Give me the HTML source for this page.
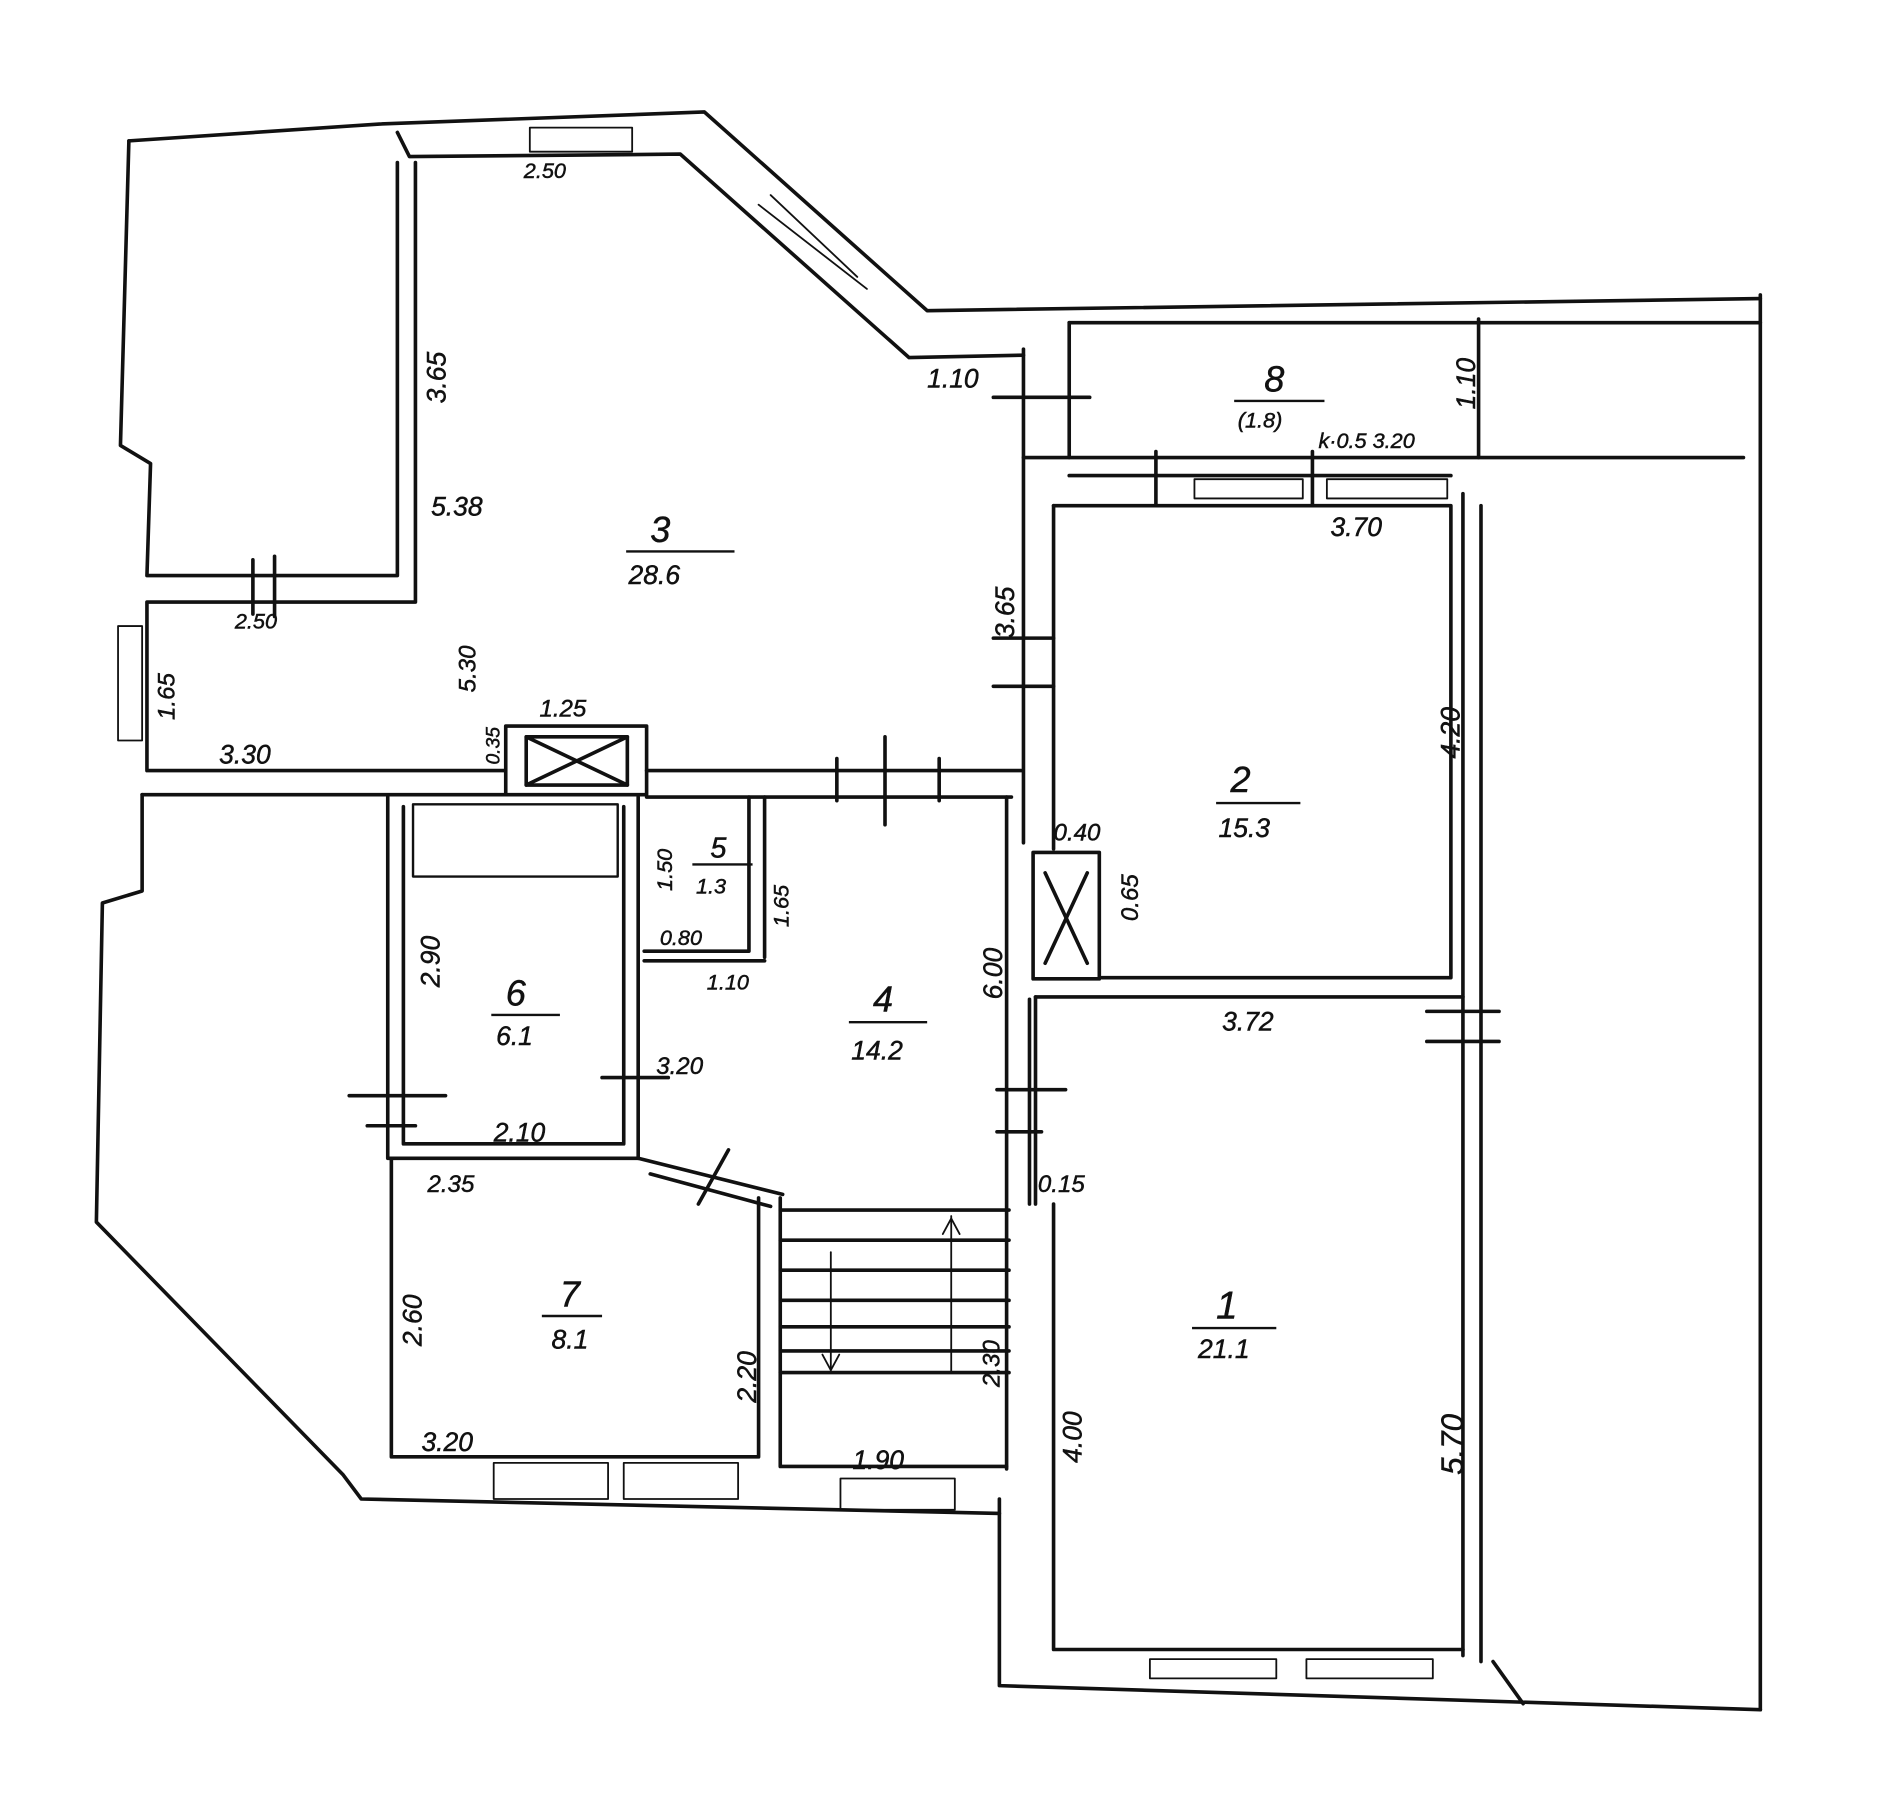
<!DOCTYPE html>
<html><head><meta charset="utf-8"><style>
html,body{margin:0;padding:0;background:#fff;}
svg{display:block}
text{font-family:"Liberation Sans",sans-serif;font-style:italic;fill:#111;stroke:#111;stroke-width:0.4}
</style></head><body>
<svg width="1888" height="1800" viewBox="0 0 1568 1495" xmlns="http://www.w3.org/2000/svg">
<g fill="none" stroke="#111" stroke-width="3" stroke-linecap="round" stroke-linejoin="round">
<polyline points="107,117 315,103 585,93 770,258 1462,248"/>
<polyline points="330,110 340,130 565,128 755,297 850,295"/>
<line x1="888" y1="268" x2="1462" y2="268"/>
<line x1="1462" y1="245" x2="1462" y2="1420"/>
<line x1="1228" y1="265" x2="1228" y2="380"/>
<rect x="440" y="106" width="85" height="20" stroke-width="1.5"/>
<line x1="630" y1="170" x2="720" y2="240" stroke-width="1.5"/>
<line x1="640" y1="162" x2="712" y2="230" stroke-width="1.5"/>
<polyline points="107,117 100,370 125,385 122,478 330,478 330,135"/>
<polyline points="345,135 345,500 122,500 122,640 420,640"/>
<rect x="98" y="520" width="20" height="95" stroke-width="1.5"/>
<line x1="210" y1="465" x2="210" y2="510"/><line x1="228" y1="462" x2="228" y2="512"/>
<line x1="118" y1="660" x2="420" y2="660"/>
<rect x="420" y="603" width="117" height="57"/>
<rect x="437" y="612" width="84" height="40"/>
<line x1="437" y1="612" x2="521" y2="652"/><line x1="521" y1="612" x2="437" y2="652"/>
<line x1="537" y1="640" x2="848" y2="640"/>
<line x1="537" y1="662" x2="840" y2="662"/>
<line x1="695" y1="630" x2="695" y2="665"/><line x1="735" y1="612" x2="735" y2="685"/><line x1="780" y1="630" x2="780" y2="665"/>
<line x1="850" y1="290" x2="850" y2="700"/>
<line x1="888" y1="268" x2="888" y2="380"/>
<line x1="850" y1="380" x2="1448" y2="380"/>
<line x1="888" y1="395" x2="1205" y2="395"/>
<line x1="825" y1="330" x2="905" y2="330"/>
<line x1="960" y1="375" x2="960" y2="420"/><line x1="1090" y1="375" x2="1090" y2="420"/>
<rect x="992" y="398" width="90" height="16" stroke-width="1.5"/>
<rect x="1102" y="398" width="100" height="16" stroke-width="1.5"/>
<line x1="825" y1="530" x2="875" y2="530"/><line x1="825" y1="570" x2="875" y2="570"/>
<polyline points="875,420 1205,420 1205,812 915,812"/>
<line x1="875" y1="420" x2="875" y2="705"/>
<line x1="1215" y1="410" x2="1215" y2="1375"/>
<line x1="1230" y1="420" x2="1230" y2="1380"/>
<rect x="858" y="708" width="55" height="105"/>
<line x1="868" y1="725" x2="903" y2="800"/><line x1="903" y1="725" x2="868" y2="800"/>
<polyline points="860,828 1215,828"/>
<line x1="860" y1="828" x2="860" y2="1000"/>
<polyline points="875,1000 875,1370 1215,1370"/>
<polyline points="836,662 836,1220"/>
<polyline points="855,830 855,1000"/>
<polyline points="830,1245 830,1400 1462,1420"/>
<line x1="1185" y1="840" x2="1245" y2="840"/><line x1="1185" y1="865" x2="1245" y2="865"/>
<line x1="828" y1="905" x2="885" y2="905"/><line x1="828" y1="940" x2="865" y2="940"/>
<rect x="955" y="1378" width="105" height="16" stroke-width="1.5"/>
<rect x="1085" y="1378" width="105" height="16" stroke-width="1.5"/>
<polyline points="322,662 322,962 530,962"/>
<polyline points="335,670 335,950 518,950 518,670"/>
<line x1="530" y1="662" x2="530" y2="962"/>
<rect x="343" y="668" width="170" height="60" stroke-width="2"/>
<line x1="290" y1="910" x2="370" y2="910"/><line x1="305" y1="935" x2="345" y2="935"/>
<line x1="500" y1="895" x2="555" y2="895"/>
<polyline points="622,662 622,790 535,790"/>
<line x1="635" y1="662" x2="635" y2="795"/>
<line x1="535" y1="798" x2="635" y2="798"/>
<polyline points="325,962 325,1210 630,1210 630,995"/>
<polyline points="530,962 650,992"/>
<line x1="540" y1="975" x2="640" y2="1002"/>
<line x1="580" y1="1000" x2="605" y2="955"/>
<rect x="410" y="1215" width="95" height="30" stroke-width="1.5"/>
<rect x="518" y="1215" width="95" height="30" stroke-width="1.5"/>
<polyline points="648,995 648,1218 836,1218"/>
<line x1="648" y1="1005" x2="838" y2="1005"/>
<line x1="648" y1="1030" x2="838" y2="1030"/>
<line x1="648" y1="1055" x2="838" y2="1055"/>
<line x1="648" y1="1080" x2="838" y2="1080"/>
<line x1="648" y1="1102" x2="838" y2="1102"/>
<line x1="648" y1="1122" x2="838" y2="1122"/>
<line x1="648" y1="1140" x2="838" y2="1140"/>
<line x1="790" y1="1010" x2="790" y2="1140" stroke-width="1.5"/>
<line x1="690" y1="1040" x2="690" y2="1138" stroke-width="1.5"/>
<polyline points="683,1125 690,1138 697,1125" stroke-width="1.5"/>
<polyline points="783,1025 790,1012 797,1025" stroke-width="1.5"/>
<polyline points="118,660 118,740 85,750 80,1015 285,1225 300,1245 830,1257"/>
<rect x="698" y="1228" width="95" height="26" stroke-width="1.5"/>
<line x1="1240" y1="1380" x2="1265" y2="1415"/>
</g>
<g font-size="22">
<text x="435" y="148" font-size="18">2.50</text>
<text x="770" y="322">1.10</text>
<text x="1050" y="325" font-size="30">8</text>
<text x="1028" y="355" font-size="18">(1.8)</text>
<line x1="1025" y1="333" x2="1100" y2="333" stroke="#111" stroke-width="2"/>
<text x="1095" y="372" font-size="18">k·0.5 3.20</text>
<text x="1225" y="340" font-size="22" transform="rotate(-90 1225 340)">1.10</text>
<text x="540" y="450" font-size="30">3</text>
<line x1="520" y1="458" x2="610" y2="458" stroke="#111" stroke-width="2"/>
<text x="522" y="485">28.6</text>
<text x="370" y="335" transform="rotate(-90 370 335)">3.65</text>
<text x="358" y="428">5.38</text>
<text x="195" y="522" font-size="18">2.50</text>
<text x="145" y="598" font-size="20" transform="rotate(-90 145 598)">1.65</text>
<text x="395" y="575" font-size="20" transform="rotate(-90 395 575)">5.30</text>
<text x="182" y="634">3.30</text>
<text x="448" y="595" font-size="20">1.25</text>
<text x="415" y="635" font-size="16" transform="rotate(-90 415 635)">0.35</text>
<text x="842" y="530" transform="rotate(-90 842 530)">3.65</text>
<text x="1105" y="445">3.70</text>
<text x="1022" y="658" font-size="30">2</text>
<line x1="1010" y1="667" x2="1080" y2="667" stroke="#111" stroke-width="2"/>
<text x="1012" y="695">15.3</text>
<text x="1212" y="630" transform="rotate(-90 1212 630)">4.20</text>
<text x="875" y="698" font-size="20">0.40</text>
<text x="945" y="765" font-size="20" transform="rotate(-90 945 765)">0.65</text>
<text x="1015" y="856">3.72</text>
<text x="1010" y="1095" font-size="32">1</text>
<line x1="990" y1="1103" x2="1060" y2="1103" stroke="#111" stroke-width="2"/>
<text x="995" y="1128">21.1</text>
<text x="898" y="1215" transform="rotate(-90 898 1215)">4.00</text>
<text x="1215" y="1225" font-size="26" transform="rotate(-90 1215 1225)">5.70</text>
<text x="862" y="990" font-size="20">0.15</text>
<text x="832" y="830" transform="rotate(-90 832 830)">6.00</text>
<text x="725" y="840" font-size="30">4</text>
<line x1="705" y1="849" x2="770" y2="849" stroke="#111" stroke-width="2"/>
<text x="707" y="880">14.2</text>
<text x="590" y="712" font-size="24">5</text>
<line x1="575" y1="718" x2="625" y2="718" stroke="#111" stroke-width="2"/>
<text x="578" y="742" font-size="18">1.3</text>
<text x="558" y="740" font-size="18" transform="rotate(-90 558 740)">1.50</text>
<text x="655" y="770" font-size="18" transform="rotate(-90 655 770)">1.65</text>
<text x="548" y="785" font-size="18">0.80</text>
<text x="587" y="822" font-size="18">1.10</text>
<text x="545" y="892" font-size="20">3.20</text>
<text x="420" y="835" font-size="30">6</text>
<line x1="408" y1="843" x2="465" y2="843" stroke="#111" stroke-width="2"/>
<text x="412" y="868">6.1</text>
<text x="365" y="820" transform="rotate(-90 365 820)">2.90</text>
<text x="410" y="948">2.10</text>
<text x="355" y="990" font-size="20">2.35</text>
<text x="465" y="1085" font-size="30">7</text>
<line x1="450" y1="1093" x2="500" y2="1093" stroke="#111" stroke-width="2"/>
<text x="458" y="1120">8.1</text>
<text x="350" y="1118" transform="rotate(-90 350 1118)">2.60</text>
<text x="628" y="1165" transform="rotate(-90 628 1165)">2.20</text>
<text x="350" y="1205">3.20</text>
<text x="830" y="1152" font-size="20" transform="rotate(-90 830 1152)">2.30</text>
<text x="708" y="1220">1.90</text>
</g>
</svg>
</body></html>
